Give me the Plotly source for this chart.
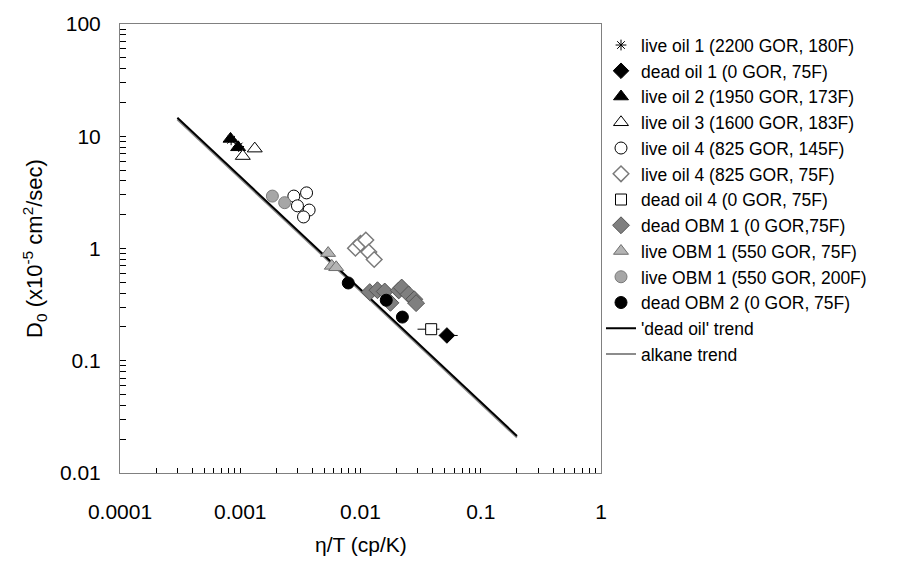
import plotly.graph_objects as go

# --- measured data: eta/T (cp/K) vs D0 (x1e-5 cm^2/sec) ---
live_oil1_x = [0.00084, 0.00097]
live_oil1_y = [9.3, 8.1]

dead_oil1_x = [0.0523]
dead_oil1_y = [0.168]
dead_oil1_err_plus = [0.012]
dead_oil1_err_minus = [0.007]

live_oil2_x = [0.00083, 0.00096]
live_oil2_y = [9.47, 7.97]

live_oil3_x = [0.00132, 0.00105]
live_oil3_y = [7.76, 6.66]

live_oil4_145_x = [0.00279, 0.00356, 0.00299, 0.00374, 0.00336]
live_oil4_145_y = [2.93, 3.13, 2.40, 2.20, 1.91]

live_oil4_75_x = [0.00908, 0.0100, 0.01107, 0.01172, 0.0130]
live_oil4_75_y = [1.007, 1.11, 1.19, 0.929, 0.798]

dead_oil4_x = [0.0387]
dead_oil4_y = [0.191]
dead_oil4_err_plus = [0.0067]
dead_oil4_err_minus = [0.0089]

dead_obm1_x = [0.01194, 0.01384, 0.0159, 0.01774, 0.0208, 0.0220, 0.0251, 0.0280, 0.0290]
dead_obm1_y = [0.409, 0.425, 0.414, 0.328, 0.423, 0.449, 0.390, 0.353, 0.326]

live_obm1_75_x = [0.00538, 0.00577, 0.00628]
live_obm1_75_y = [0.91, 0.70, 0.68]

live_obm1_200_x = [0.00185, 0.00234]
live_obm1_200_y = [2.93, 2.56]

dead_obm2_x = [0.00791, 0.01637, 0.0223]
dead_obm2_y = [0.493, 0.346, 0.245]

# correlation lines (end points)
dead_oil_trend_x = [0.0003, 0.2]
dead_oil_trend_y = [14.6, 0.0214]
alkane_trend_x = [0.0003, 0.2]
alkane_trend_y = [14.1, 0.0207]

x_decades = [0.0001, 0.001, 0.01, 0.1, 1]
x_decade_labels = ["0.0001", "0.001", "0.01", "0.1", "1"]
y_decades = [0.01, 0.1, 1, 10, 100]
y_decade_labels = ["0.01", "0.1", "1", "10", "100"]

FONT = "Liberation Sans, Arial, sans-serif"


def minor_positions(decades):
    return [m * d for d in decades[:-1] for m in range(2, 10)]


fig = go.Figure()

# trend lines (alkane underneath, drawn first)
fig.add_trace(go.Scatter(
    x=alkane_trend_x, y=alkane_trend_y, mode="lines",
    line=dict(color="#8c8c8c", width=2), name="alkane trend", legendrank=13))
fig.add_trace(go.Scatter(
    x=dead_oil_trend_x, y=dead_oil_trend_y, mode="lines",
    line=dict(color="black", width=2), name="'dead oil' trend", legendrank=12))

fig.add_trace(go.Scatter(
    x=live_oil1_x, y=live_oil1_y, mode="markers", name="live oil 1 (2200 GOR, 180F)",
    marker=dict(symbol="asterisk-open", size=9, color="black", line=dict(color="black", width=1)),
    legendrank=1))
fig.add_trace(go.Scatter(
    x=dead_oil1_x, y=dead_oil1_y, mode="markers", name="dead oil 1 (0 GOR, 75F)",
    marker=dict(symbol="diamond", size=12, color="black", line=dict(color="black", width=1)),
    error_x=dict(type="data", symmetric=False, array=dead_oil1_err_plus,
                 arrayminus=dead_oil1_err_minus, color="black", thickness=1, width=0),
    legendrank=2))
fig.add_trace(go.Scatter(
    x=live_oil2_x, y=live_oil2_y, mode="markers", name="live oil 2 (1950 GOR, 173F)",
    marker=dict(symbol="triangle-up", size=13, color="black", line=dict(color="black", width=1)),
    legendrank=3))
fig.add_trace(go.Scatter(
    x=live_oil3_x, y=live_oil3_y, mode="markers", name="live oil 3 (1600 GOR, 183F)",
    marker=dict(symbol="triangle-up", size=13, color="white", line=dict(color="black", width=1)),
    legendrank=4))
fig.add_trace(go.Scatter(
    x=live_oil4_145_x, y=live_oil4_145_y, mode="markers", name="live oil 4 (825 GOR, 145F)",
    marker=dict(symbol="circle", size=12, color="white", line=dict(color="black", width=1)),
    legendrank=5))
fig.add_trace(go.Scatter(
    x=live_oil4_75_x, y=live_oil4_75_y, mode="markers", name="live oil 4 (825 GOR, 75F)",
    marker=dict(symbol="diamond", size=12, color="white", line=dict(color="#7a7a7a", width=1.5)),
    legendrank=6))
fig.add_trace(go.Scatter(
    x=dead_oil4_x, y=dead_oil4_y, mode="markers", name="dead oil 4 (0 GOR, 75F)",
    marker=dict(symbol="square", size=11, color="white", line=dict(color="black", width=1)),
    error_x=dict(type="data", symmetric=False, array=dead_oil4_err_plus,
                 arrayminus=dead_oil4_err_minus, color="black", thickness=1, width=0),
    legendrank=7))
fig.add_trace(go.Scatter(
    x=live_obm1_200_x, y=live_obm1_200_y, mode="markers", name="live OBM 1 (550 GOR, 200F)",
    marker=dict(symbol="circle", size=12, color="#a6a6a6", line=dict(color="#7a7a7a", width=1)),
    legendrank=10))
fig.add_trace(go.Scatter(
    x=live_obm1_75_x, y=live_obm1_75_y, mode="markers", name="live OBM 1 (550 GOR, 75F)",
    marker=dict(symbol="triangle-up", size=13, color="#b4b4b4", line=dict(color="#6e6e6e", width=1)),
    legendrank=9))
fig.add_trace(go.Scatter(
    x=dead_obm1_x, y=dead_obm1_y, mode="markers", name="dead OBM 1 (0 GOR,75F)",
    marker=dict(symbol="diamond", size=13, color="#7f7f7f", line=dict(color="#555555", width=1)),
    legendrank=8))
fig.add_trace(go.Scatter(
    x=dead_obm2_x, y=dead_obm2_y, mode="markers", name="dead OBM 2 (0 GOR, 75F)",
    marker=dict(symbol="circle", size=12, color="black", line=dict(color="black", width=1)),
    legendrank=11))

axis_common = dict(
    type="log", showgrid=False, zeroline=False,
    showline=True, mirror=True, linecolor="#808080", linewidth=1,
    ticks="inside", tickcolor="black", tickwidth=1,
    tickfont=dict(family=FONT, size=21, color="black"),
    tickmode="array",
)

fig.update_xaxes(**axis_common, range=[-4, 0],
                 tickvals=x_decades, ticktext=x_decade_labels,
                 ticklen=5, ticklabelstandoff=20,
                 minor=dict(tickmode="array", tickvals=minor_positions(x_decades),
                            ticks="inside", ticklen=5, tickcolor="black", tickwidth=1,
                            showgrid=False))
fig.update_yaxes(**axis_common, range=[-2, 2],
                 tickvals=y_decades, ticktext=y_decade_labels,
                 ticklen=6, ticklabelstandoff=14,
                 minor=dict(tickmode="array", tickvals=minor_positions(y_decades),
                            ticks="inside", ticklen=6, tickcolor="black", tickwidth=1,
                            showgrid=False))

fig.add_annotation(text="\u03b7/T (cp/K)", xref="paper", yref="paper",
                   x=0.5, y=-0.16, xanchor="center", yanchor="middle",
                   showarrow=False, font=dict(family=FONT, size=21, color="black"))
fig.add_annotation(text="D<sub>0</sub> (x10<sup>-5</sup> cm<sup>2</sup>/sec)",
                   xref="paper", yref="paper", x=-0.178, y=0.5, textangle=-90,
                   xanchor="center", yanchor="middle", showarrow=False,
                   font=dict(family=FONT, size=22, color="black"))

fig.update_layout(
    width=901, height=571,
    margin=dict(l=120, r=300, t=13, b=98),
    paper_bgcolor="white", plot_bgcolor="white",
    font=dict(family=FONT, color="black"),
    showlegend=True,
    legend=dict(x=1.0, xanchor="left", y=0.993, yanchor="top",
                font=dict(family=FONT, size=17.5, color="black"),
                bgcolor="rgba(0,0,0,0)", borderwidth=0,
                traceorder="normal", itemsizing="trace"),
)

fig.write_html("out.html")
